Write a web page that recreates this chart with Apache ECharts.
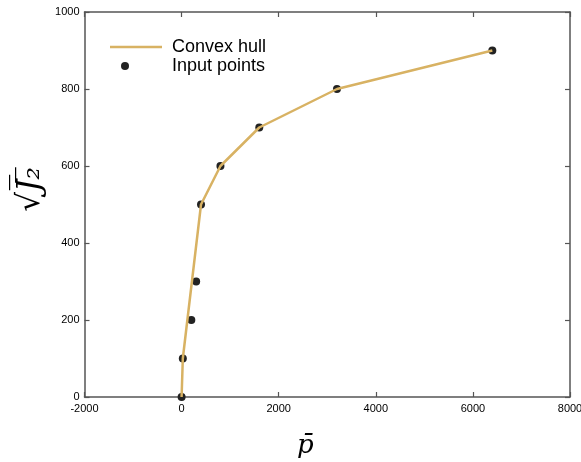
<!DOCTYPE html>
<html>
<head>
<meta charset="utf-8">
<script src="https://cdn.jsdelivr.net/npm/echarts@6/dist/echarts.min.js"></script>
<style>
  html, body { margin: 0; padding: 0; background: #fff; }
  #chart { width: 581px; height: 462px; }
</style>
</head>
<body>
<div id="chart"></div>
<script>
// Input points (p̄, √J2)
const pointX = [0, 25, 200, 300, 400, 800, 1600, 3200, 6400];
const pointY = [0, 100, 200, 300, 500, 600, 700, 800, 900];
// Upper convex hull vertices
const hullX = [0, 25, 400, 800, 1600, 3200, 6400];
const hullY = [0, 100, 500, 600, 700, 800, 900];

const xTicks = { min: -2000, max: 8000, interval: 2000 };
const yTicks = { min: 0, max: 1000, interval: 200 };

const hullColor = '#d8b263';
const pointColor = '#222222';
const axisColor = '#555555';
const labelFont = { color: '#000', fontSize: 11, fontFamily: 'Liberation Sans, Arial, sans-serif' };
const legendFont = { color: '#000', fontSize: 18, fontFamily: 'Liberation Sans, Arial, sans-serif' };
const plainNumber = v => String(v);

const chart = echarts.init(document.getElementById('chart'), null, { renderer: 'canvas' });

const baseAxis = {
  axisLine: { show: true, onZero: false, lineStyle: { color: axisColor, width: 1.5 } },
  axisTick: { show: true, inside: true, length: 5, lineStyle: { color: axisColor, width: 1.2 } },
  splitLine: { show: false }
};

chart.setOption({
  animation: false,
  backgroundColor: '#ffffff',
  grid: { left: 84.5, right: 11, top: 12, bottom: 65, containLabel: false, outerBoundsMode: 'none' },
  legend: [
    {
      // line sample for the hull
      left: 105, top: 33,
      itemWidth: 52, itemHeight: 8,
      textStyle: Object.assign({ padding: [0, 0, 0, 5] }, legendFont),
      data: [{ name: 'Convex hull', icon: 'path://M0,0H52V2.5H0Z', itemStyle: { color: hullColor } }]
    },
    {
      // dot sample for the points
      left: 116, top: 52,
      itemWidth: 8, itemHeight: 8,
      textStyle: Object.assign({ padding: [0, 0, 0, 38] }, legendFont),
      data: ['Input points']
    }
  ],
  xAxis: [
    Object.assign({}, baseAxis, {
      type: 'value', position: 'bottom',
      min: xTicks.min, max: xTicks.max, interval: xTicks.interval,
      axisLabel: Object.assign({ margin: 6, formatter: plainNumber }, labelFont),
      name: 'p\u0304', nameLocation: 'middle', nameGap: 36, nameMoveOverlap: false,
      nameTextStyle: { fontFamily: 'DejaVu Serif, serif', fontStyle: 'italic', fontSize: 26, color: '#000', padding: [0, 44, 0, 0] }
    }),
    Object.assign({}, baseAxis, {
      type: 'value', position: 'top',
      min: xTicks.min, max: xTicks.max, interval: xTicks.interval,
      axisLabel: { show: false }
    })
  ],
  yAxis: [
    Object.assign({}, baseAxis, {
      type: 'value', position: 'left',
      min: yTicks.min, max: yTicks.max, interval: yTicks.interval,
      axisLabel: Object.assign({ margin: 5, formatter: plainNumber }, labelFont),
      name: '\u221AJ\u0305\u2082\u0305', nameLocation: 'middle', nameGap: 38, nameRotate: 90, nameMoveOverlap: false,
      nameTextStyle: { fontFamily: 'DejaVu Serif, serif', fontStyle: 'italic', fontSize: 31, color: '#000', padding: [0, 0, 0, 30] }
    }),
    Object.assign({}, baseAxis, {
      type: 'value', position: 'right',
      min: yTicks.min, max: yTicks.max, interval: yTicks.interval,
      axisLabel: { show: false }
    })
  ],
  series: [
    {
      name: 'Convex hull',
      type: 'line',
      data: hullX.map((x, i) => [x, hullY[i]]),
      symbol: 'none',
      lineStyle: { color: hullColor, width: 2.5 },
      itemStyle: { color: hullColor },
      z: 2
    },
    {
      name: 'Input points',
      type: 'scatter',
      data: pointX.map((x, i) => [x, pointY[i]]),
      symbol: 'circle',
      symbolSize: 8,
      itemStyle: { color: pointColor, opacity: 1 },
      z: 1
    }
  ]
});
</script>
</body>
</html>
